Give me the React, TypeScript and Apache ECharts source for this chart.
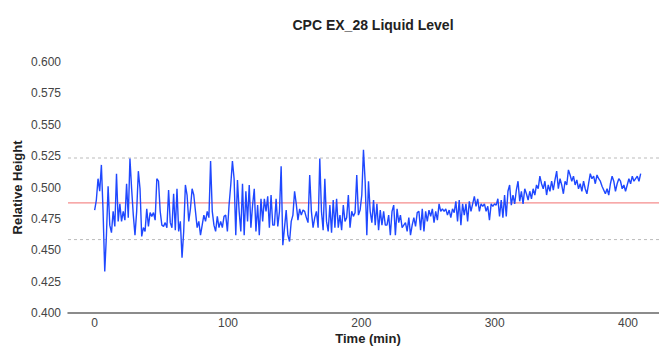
import React, { useEffect, useRef } from "react";
import * as echarts from "echarts";

const TITLE = "CPC EX_28 Liquid Level";
const X_NAME = "Time (min)";
const Y_NAME = "Relative Height";
const T_STEP = 1.26; // minutes between samples
const X_TICKS = [0, 100, 200, 300, 400];
const X_RANGE = [-20, 430];
const MEAN_LEVEL = 0.4877;
const UPPER_LIMIT = 0.5235;
const LOWER_LIMIT = 0.4585;

const level0to78 = [
  0.482, 0.49, 0.507, 0.497, 0.518, 0.481, 0.433, 0.462, 0.501, 0.47,
  0.464, 0.481, 0.469, 0.511, 0.473, 0.487, 0.473, 0.481, 0.474, 0.503,
  0.476, 0.523, 0.499, 0.478, 0.462, 0.481, 0.513, 0.499, 0.461, 0.468,
  0.465, 0.483, 0.469, 0.48, 0.477, 0.48, 0.474, 0.507, 0.505, 0.481,
  0.47, 0.469, 0.472, 0.468, 0.498, 0.472, 0.468, 0.495, 0.466, 0.499,
  0.465, 0.473, 0.444, 0.465, 0.502, 0.494, 0.473, 0.483, 0.499, 0.494,
];
const level78to158 = [
  0.481, 0.468, 0.473, 0.462, 0.47, 0.478, 0.473, 0.481, 0.476, 0.521,
  0.481, 0.47, 0.465, 0.477, 0.468, 0.473, 0.468, 0.477, 0.478, 0.465,
  0.486, 0.502, 0.521, 0.507, 0.462, 0.506, 0.481, 0.465, 0.503, 0.462,
  0.497, 0.473, 0.502, 0.468, 0.486, 0.499, 0.465, 0.486, 0.462, 0.491,
  0.473, 0.491, 0.481, 0.493, 0.468, 0.494, 0.47, 0.47, 0.491, 0.469,
  0.481, 0.517, 0.454, 0.468, 0.482, 0.462, 0.457, 0.473, 0.478, 0.497,
  0.487, 0.474, 0.483, 0.478, 0.482, 0.481, 0.476,
];
const level158to240 = [
  0.472, 0.51, 0.481, 0.468, 0.476, 0.481, 0.468, 0.523, 0.481, 0.466,
  0.507, 0.473, 0.465, 0.486, 0.464, 0.49, 0.468, 0.491, 0.468, 0.478,
  0.466, 0.486, 0.473, 0.476, 0.494, 0.468, 0.481, 0.477, 0.48, 0.51,
  0.478, 0.482, 0.494, 0.53, 0.505, 0.462, 0.505, 0.481, 0.472, 0.49,
  0.47, 0.487, 0.466, 0.482, 0.47, 0.481, 0.47, 0.47, 0.478, 0.462,
  0.481, 0.486, 0.462, 0.483, 0.472, 0.478, 0.468, 0.47, 0.472, 0.465,
  0.476, 0.462, 0.47, 0.476, 0.469, 0.48,
];
const level240to322 = [
  0.481, 0.466, 0.483, 0.465, 0.481, 0.473, 0.482, 0.477, 0.483, 0.472,
  0.481, 0.474, 0.487, 0.481, 0.483, 0.481, 0.483, 0.478, 0.482, 0.476,
  0.483, 0.48, 0.489, 0.473, 0.49, 0.47, 0.487, 0.478, 0.487, 0.473,
  0.489, 0.481, 0.487, 0.493, 0.485, 0.491, 0.481, 0.487, 0.485, 0.487,
  0.481, 0.485, 0.474, 0.487, 0.485, 0.487, 0.486, 0.491, 0.477, 0.49,
  0.476, 0.494, 0.477, 0.497, 0.502, 0.486, 0.494, 0.487, 0.498, 0.505,
  0.489, 0.497, 0.487, 0.499, 0.495,
];
const level322to408 = [
  0.49, 0.497, 0.491, 0.499, 0.494, 0.502, 0.499, 0.509, 0.503, 0.499,
  0.505, 0.494, 0.502, 0.497, 0.505, 0.498, 0.506, 0.513, 0.499, 0.507,
  0.502, 0.495, 0.505, 0.502, 0.514, 0.51, 0.505, 0.509, 0.502, 0.506,
  0.499, 0.503, 0.497, 0.505, 0.499, 0.495, 0.503, 0.511, 0.507, 0.509,
  0.503, 0.51, 0.507, 0.505, 0.501, 0.498, 0.495, 0.499, 0.494, 0.503,
  0.509, 0.505, 0.497, 0.503, 0.507, 0.505, 0.499, 0.502, 0.497, 0.502,
  0.507, 0.503, 0.509, 0.505, 0.507, 0.509, 0.505, 0.511,
];

const levels = [
  ...level0to78,
  ...level78to158,
  ...level158to240,
  ...level240to322,
  ...level322to408,
];

const FONT = "'Liberation Sans', Arial, Helvetica, sans-serif";

function flatLine(name: string, v: number, color: string, type: any, width: number, z: number) {
  return {
    name,
    type: "line",
    data: [
      [X_RANGE[0], v],
      [X_RANGE[1], v],
    ],
    symbol: "none",
    showSymbol: false,
    silent: true,
    lineStyle: { color, type, width },
    z,
  };
}

export default function App() {
  const ref = useRef<HTMLDivElement>(null);
  useEffect(() => {
    document.body.style.margin = "0";
    if (!ref.current) return;
    const chart = echarts.init(ref.current, undefined, { renderer: "svg" });
    const data = levels.map((v, i) => [i * T_STEP, v]);
    chart.setOption({
      animation: false,
      backgroundColor: "#ffffff",
      textStyle: { fontFamily: FONT },
      title: {
        text: TITLE,
        left: 368,
        top: 13,
        textAlign: "center",
        textStyle: { fontFamily: FONT, fontWeight: "bold", fontSize: 14, color: "#222" },
      },
      grid: {
        left: 68,
        top: 62,
        width: 600,
        height: 251,
        containLabel: false,
        outerBoundsMode: "none",
      },
      xAxis: {
        type: "value",
        min: X_RANGE[0],
        max: X_RANGE[1],
        name: X_NAME,
        nameLocation: "middle",
        nameGap: 19,
        nameMoveOverlap: false,
        nameTextStyle: { fontWeight: "bold", fontSize: 13, color: "#222", fontFamily: FONT },
        axisLine: { show: true, lineStyle: { color: "#666", width: 1.5 } },
        axisTick: { show: false },
        splitLine: { show: false },
        axisLabel: {
          customValues: X_TICKS,
          color: "#444",
          fontSize: 12,
          margin: 4,
          fontFamily: FONT,
        },
      },
      yAxis: {
        type: "value",
        min: 0.4,
        max: 0.6,
        interval: 0.025,
        name: Y_NAME,
        nameLocation: "middle",
        nameGap: 44,
        nameMoveOverlap: false,
        nameTextStyle: { fontWeight: "bold", fontSize: 13, color: "#222", fontFamily: FONT },
        axisLine: { show: false },
        axisTick: { show: false },
        splitLine: { show: false },
        axisLabel: {
          color: "#444",
          fontSize: 12,
          margin: 7,
          fontFamily: FONT,
          formatter: (v: number) => v.toFixed(3),
        },
      },
      series: [
        flatLine("upper", UPPER_LIMIT, "#bbbbbb", [3, 3], 1, 1),
        flatLine("lower", LOWER_LIMIT, "#bbbbbb", [3, 3], 1, 1),
        flatLine("mean", MEAN_LEVEL, "#f58c8c", "solid", 1.3, 2),
        {
          name: "level",
          type: "line",
          data,
          showSymbol: false,
          symbol: "none",
          lineStyle: { color: "#1f48ff", width: 1.4 },
          z: 3,
        },
      ],
    });
    return () => chart.dispose();
  }, []);
  return <div ref={ref} style={{ width: 659, height: 346 }} />;
}
